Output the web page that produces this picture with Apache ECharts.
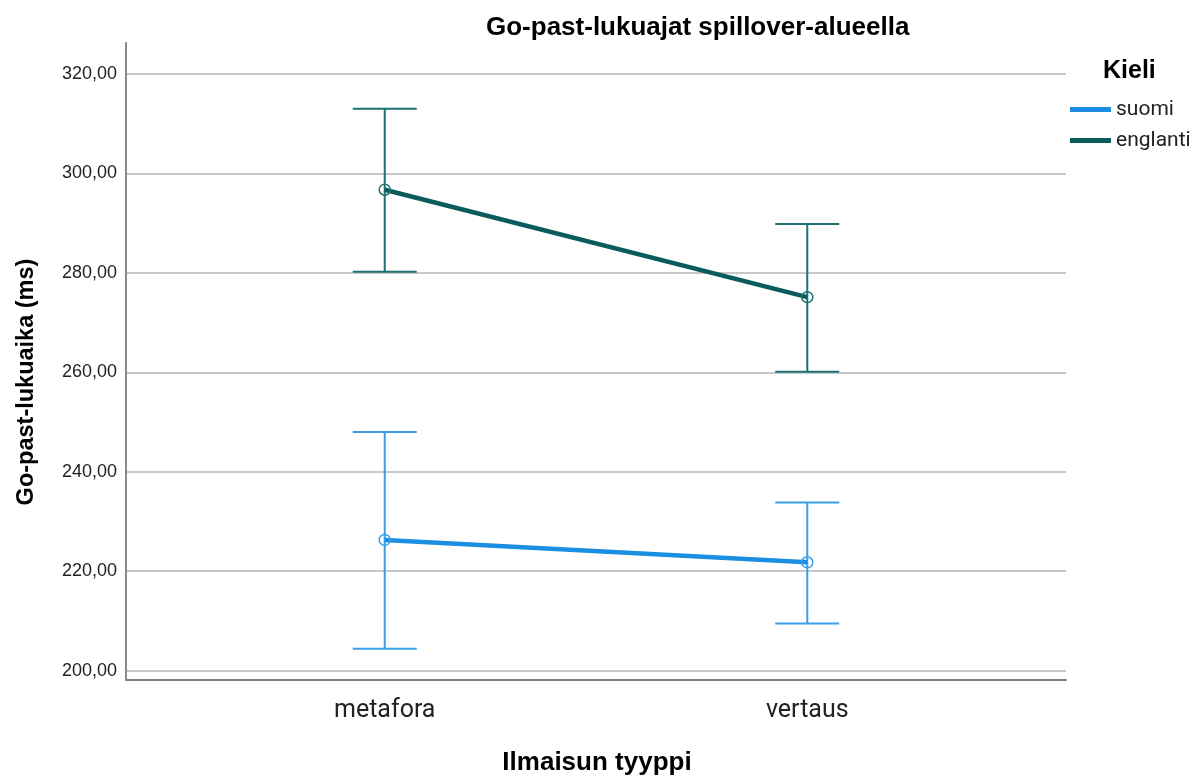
<!DOCTYPE html>
<html>
<head>
<meta charset="utf-8">
<script src="https://cdn.jsdelivr.net/npm/echarts@6/dist/echarts.min.js"></script>
<style>
  html, body { margin: 0; padding: 0; background: #fff; }
  #chart { width: 1200px; height: 776px; }
</style>
</head>
<body>
<div id="chart"></div>
<script>
// Expression types on the x axis
const categories = ['metafora', 'vertaus'];
// Language groups
const groups = ['suomi', 'englanti'];
// Mean go-past reading times (ms) with error bar bounds
const suomiMean = [226.3, 221.8];
const suomiLow = [204.4, 209.5];
const suomiHigh = [248.0, 233.8];
const englantiMean = [296.7, 275.1];
const englantiLow = [280.2, 260.1];
const englantiHigh = [313.0, 289.8];
// Y axis tick values
const yTicks = [200, 220, 240, 260, 280, 300, 320];

const lineColors = ['#1a8ee0', '#0a5c5c'];
const barColors = ['#3a9fe8', '#1f7070'];

function pairs(values) {
  return values.map((v, i) => [i, v]);
}
function barData(low, high) {
  return low.map((l, i) => [i, l, high[i]]);
}

// Draws a vertical whisker with caps at both ends
function renderErrorBar(color) {
  return function (params, api) {
    const x = api.value(0);
    const lo = api.coord([x, api.value(1)]);
    const hi = api.coord([x, api.value(2)]);
    const half = 32;
    const style = { stroke: color, lineWidth: 2, fill: null };
    return {
      type: 'group',
      children: [
        { type: 'line', shape: { x1: lo[0], y1: lo[1], x2: hi[0], y2: hi[1] }, style },
        { type: 'line', shape: { x1: hi[0] - half, y1: hi[1], x2: hi[0] + half, y2: hi[1] }, style },
        { type: 'line', shape: { x1: lo[0] - half, y1: lo[1], x2: lo[0] + half, y2: lo[1] }, style }
      ]
    };
  };
}

const means = [suomiMean, englantiMean];
const lows = [suomiLow, englantiLow];
const highs = [suomiHigh, englantiHigh];

const series = [];
groups.forEach((g, k) => {
  series.push({
    name: g + ' (virhe)',
    type: 'custom',
    renderItem: renderErrorBar(barColors[k]),
    data: barData(lows[k], highs[k]),
    encode: { x: 0, y: [1, 2] },
    z: 2,
    silent: true
  });
});
groups.forEach((g, k) => {
  series.push({
    name: g,
    type: 'line',
    data: pairs(means[k]),
    symbol: 'circle',
    symbolSize: 11,
    itemStyle: { color: 'rgba(0,0,0,0)', borderColor: barColors[k], borderWidth: 1.5 },
    lineStyle: { color: lineColors[k], width: 4.5 },
    z: 3,
    silent: true
  });
});

const chart = echarts.init(document.getElementById('chart'), null, { renderer: 'canvas' });
chart.setOption({
  animation: false,
  backgroundColor: '#ffffff',
  title: {
    text: 'Go-past-lukuajat spillover-alueella',
    left: 486,
    top: 15,
    padding: 0,
    textStyle: { fontFamily: 'Liberation Sans, Arial, sans-serif', fontWeight: 'bold', fontSize: 26, color: '#000' }
  },
  legend: {
    orient: 'vertical',
    left: 1070,
    top: 99,
    padding: 0,
    itemWidth: 41,
    itemHeight: 5,
    itemGap: 10,
    icon: 'rect',
    data: groups.map((g, k) => ({ name: g, itemStyle: { color: lineColors[k], borderWidth: 0 } })),
    textStyle: { fontFamily: 'Roboto, sans-serif', fontSize: 21, color: '#222' }
  },
  grid: { left: 126, right: 134, top: 43, bottom: 96, containLabel: false },
  xAxis: {
    type: 'value',
    min: -0.6123,
    max: 1.6123,
    axisLine: { show: true, onZero: false, lineStyle: { color: '#7f7f7f', width: 2 } },
    axisTick: { show: false },
    splitLine: { show: false },
    axisLabel: {
      customValues: [0, 1],
      formatter: v => categories[Math.round(v)],
      margin: 18,
      fontFamily: 'Roboto, sans-serif',
      fontSize: 25,
      color: '#222'
    }
  },
  yAxis: {
    type: 'value',
    min: 198.13,
    max: 326.2,
    axisLine: { show: true, onZero: false, lineStyle: { color: '#8a8a8a', width: 2 } },
    axisTick: { show: false, customValues: yTicks },
    splitLine: { show: true, lineStyle: { color: '#c8c8c8', width: 2 } },
    axisLabel: {
      customValues: yTicks,
      formatter: v => v.toFixed(2).replace('.', ','),
      margin: 9,
      padding: [7, 0, 0, 0],
      fontFamily: 'Liberation Sans, Arial, sans-serif',
      fontSize: 18,
      color: '#222'
    }
  },
  graphic: [
    {
      type: 'text',
      left: 1103,
      top: 59,
      style: { text: 'Kieli', font: 'bold 25px Liberation Sans, Arial, sans-serif', fill: '#000' }
    },
    {
      type: 'text',
      x: 597,
      y: 763,
      style: { text: 'Ilmaisun tyyppi', font: 'bold 26px Liberation Sans, Arial, sans-serif', fill: '#000', align: 'center', verticalAlign: 'middle' }
    },
    {
      type: 'text',
      x: 27,
      y: 382,
      rotation: Math.PI / 2,
      style: { text: 'Go-past-lukuaika (ms)', font: 'bold 23.5px Liberation Sans, Arial, sans-serif', fill: '#000', align: 'center', verticalAlign: 'middle' }
    }
  ],
  series
});
</script>
</body>
</html>
